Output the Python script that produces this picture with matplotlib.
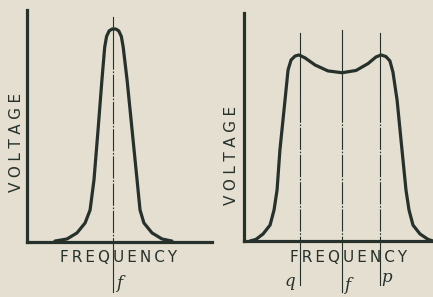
import matplotlib
matplotlib.use('Agg')
import matplotlib.pyplot as plt

# Single-tuned response (left), frequency / voltage in arbitrary units 0..100
single_freq = [15.1, 21.6, 27.0, 31.4, 34.1, 36.2, 38.4, 40.5, 42.0, 43.0, 44.4, 46.0,
               48.0, 49.6, 51.0, 52.0, 54.1, 56.8, 59.5, 61.1, 63.2, 67.6, 73.0, 78.4]
single_volt = [0.4, 1.3, 3.9, 8.2, 13.8, 26.7, 48.3, 69.8, 84.0, 88.6, 91.0, 91.8,
               91.8, 91.0, 88.6, 84.0, 69.8, 48.3, 26.7, 13.8, 8.2, 3.9, 1.3, 0.4]
single_marks = [46.5]
single_labels = ['f']

# Band-pass (double hump) response (right)
band_freq = [3.2, 6.3, 10.1, 13.8, 15.9, 17.5, 19.0, 21.7, 23.3, 24.9, 27.0, 29.1, 32.3,
             37.6, 44.4, 51.9, 59.3, 65.6, 69.8, 72.5, 75.1, 77.2, 78.8, 81.0, 83.6,
             85.7, 87.3, 89.4, 93.1, 97.4, 100.0]
band_volt = [0.0, 0.7, 3.1, 7.0, 13.6, 22.4, 39.9, 61.8, 75.0, 79.4, 81.1, 81.6, 80.3,
             77.2, 74.6, 73.8, 74.8, 77.8, 80.7, 81.6, 80.9, 79.0, 74.1, 61.8, 39.9,
             22.4, 13.6, 7.0, 3.1, 0.7, 0.0]
band_marks = [29.6, 51.9, 72.0]
band_labels = ['q', 'f', 'p']

paper = '#e4dfd0'
ink = '#26312c'

W, H = 433, 297
fig = plt.figure(figsize=(W / 100, H / 100), dpi=100, facecolor=paper)


def px(x, y):
    # pixel position (from top-left) -> figure fraction
    return x / W, 1 - y / H


def setup(ax):
    ax.set_facecolor('none')
    for s in ['top', 'right']:
        ax.spines[s].set_visible(False)
    for s in ['left', 'bottom']:
        ax.spines[s].set_linewidth(2.3)
        ax.spines[s].set_color(ink)
        ax.spines[s].set_capstyle('projecting')
    ax.set_xticks([])
    ax.set_yticks([])
    ax.set_xlim(0, 100)
    ax.set_ylim(0, 100)


def marker_line(ax, x, top, bottom, curve_top):
    # solid above and below the curve, broken inside it
    ax.plot([x, x], [top, curve_top], color=ink, lw=0.8, clip_on=False)
    ax.plot([x, x], [curve_top, 0], color=ink, lw=0.8, clip_on=False,
            dashes=(20, 1.5, 1.5, 1.5))
    ax.plot([x, x], [0, bottom], color=ink, lw=0.8, clip_on=False)


ax1 = fig.add_axes([27 / W, 55 / H, 185 / W, 232 / H])
setup(ax1)
ax1.plot(single_freq, single_volt, color=ink, lw=2.3, solid_joinstyle='round',
         solid_capstyle='round')
for x in single_marks:
    marker_line(ax1, x, 97.0, -21.6, 84.0)

ax2 = fig.add_axes([244 / W, 56 / H, 189 / W, 228 / H])
setup(ax2)
ax2.plot(band_freq, band_volt, color=ink, lw=2.3, solid_joinstyle='round',
         solid_capstyle='round', clip_on=False)
marker_line(ax2, band_marks[0], 91.2, -19.3, 62.0)
marker_line(ax2, band_marks[1], 92.5, -22.4, 62.0)
marker_line(ax2, band_marks[2], 91.2, -19.3, 62.0)

volt = '\u2009\u200a'.join('VOLTAGE')
freq = '\u2009'.join('FREQUENCY')
lab = dict(color=ink, fontsize=11, family='DejaVu Sans')
fig.text(*px(17, 142), volt, rotation=90, ha='center', va='center', **lab)
fig.text(*px(232, 155), volt, rotation=90, ha='center', va='center', **lab)
fig.text(*px(119, 258), freq, ha='center', va='center', **lab)
fig.text(*px(349, 257), freq, ha='center', va='center', **lab)

ital = dict(color=ink, fontsize=12, family='DejaVu Serif', style='italic',
            ha='center', va='center')
fig.text(*px(119, 284), single_labels[0], **ital)
fig.text(*px(290, 281), band_labels[0], **ital)
fig.text(*px(347, 285), band_labels[1], **ital)
fig.text(*px(387, 278), band_labels[2], **ital)

fig.savefig('out.png', dpi=100, facecolor=paper)
